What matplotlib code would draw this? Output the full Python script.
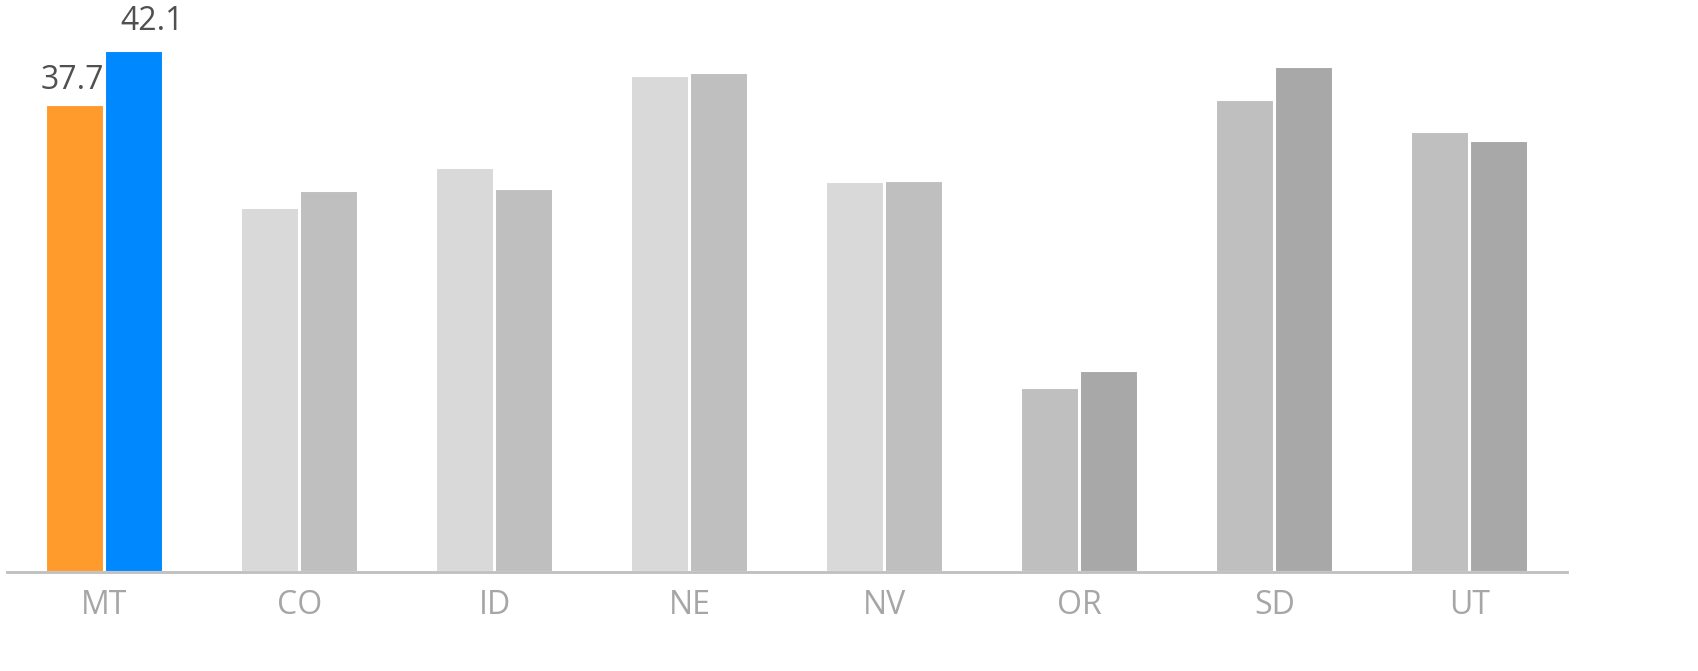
import matplotlib
matplotlib.use("Agg")
import matplotlib.pyplot as plt
import numpy as np

categories = ["MT", "CO", "ID", "NE", "NV", "OR", "SD", "UT"]
series_a = [37.7, 29.4, 32.6, 40.1, 31.5, 14.9, 38.1, 35.5]
series_b = [42.1, 30.8, 30.9, 40.3, 31.6, 16.2, 40.8, 34.8]
colors_a = ["#ff9b2d", "#d9d9d9", "#d9d9d9", "#d9d9d9", "#d9d9d9", "#bfbfbf", "#bfbfbf", "#bfbfbf"]
colors_b = ["#0088ff", "#bfbfbf", "#bfbfbf", "#bfbfbf", "#bfbfbf", "#a8a8a8", "#a8a8a8", "#a8a8a8"]

plt.rcParams['font.family'] = ['Open Sans', 'DejaVu Sans']

fig = plt.figure(figsize=(16.98, 6.71), dpi=100)
ax = fig.add_axes([7/1698, 99/671, 1560/1698, 572/671])

x = np.arange(len(categories))
off = 0.151
w = 0.295
ax.bar(x - off, series_a, width=w, color=colors_a, edgecolor="white", linewidth=1.5, zorder=2)
ax.bar(x + off, series_b, width=w, color=colors_b, edgecolor="white", linewidth=1.5, zorder=2)

ax.set_xlim(-0.5, 7.5)
ax.set_ylim(0, 46.2)
ax.set_yticks([])
ax.set_xticks(x)
ax.set_xticklabels(categories, fontsize=23, color="#a6a6a6")
ax.tick_params(axis='x', length=0, pad=12)
for s in ["top", "right", "left"]:
    ax.spines[s].set_visible(False)
ax.spines["bottom"].set_color("#bfbfbf")
ax.spines["bottom"].set_linewidth(2)

ax.annotate(f"{series_a[0]}", (x[0] - off, series_a[0]), xytext=(-2, 6),
            textcoords="offset points", ha="center", va="bottom", fontsize=23, color="#505050")
ax.annotate(f"{series_b[0]}", (x[0] + off, series_b[0]), xytext=(13, 9),
            textcoords="offset points", ha="center", va="bottom", fontsize=23, color="#505050")

fig.savefig("out.png", dpi=100)
